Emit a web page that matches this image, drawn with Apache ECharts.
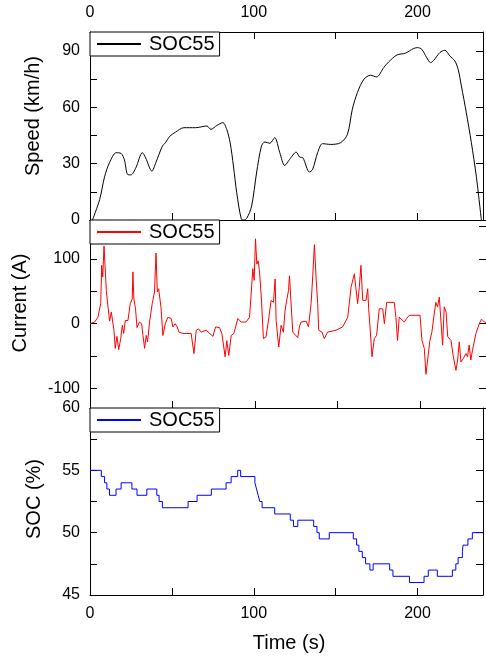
<!DOCTYPE html>
<html>
<head>
<meta charset="utf-8">
<script src="https://cdn.jsdelivr.net/npm/echarts@6/dist/echarts.min.js"></script>
<style>
  html, body { margin: 0; padding: 0; background: #fff; }
  #chart { width: 486px; height: 657px; }
</style>
</head>
<body>
<div id="chart"></div>
<script>
// legend text shared by all three panels
const legendLabel = 'SOC55';

// speed trace (s, km/h)
const speedTime = [1.5, 5.9, 8.9, 11.9, 16, 19, 21, 23, 25, 28, 32, 34, 37.8, 40.2, 44.2, 46, 48.8, 52.3, 57.3, 64.4,
  71.4, 73.8, 77.5, 81.1, 83.5, 85.6, 87.6, 89.6, 92.4, 94, 95.8, 98.7, 101.7, 104.7, 106.8, 109.8, 112.8, 115.9, 118.9,
  121.9, 125.9, 128, 130, 134, 136, 139, 142, 147, 153, 157.2, 160.2, 163.3, 167.3, 171.3, 175, 179.4, 182.4, 187.5,
  192.5, 197.6, 200, 202.6, 205.6, 208, 210, 213.7, 216.7, 219.7, 222.8, 224.8, 226.8, 229.8, 232.9, 235.9, 239];
const speedVals = [0, 10.9, 23, 30.5, 35.8, 35.4, 32, 24.2, 24, 27.8, 35.8, 33, 26, 30.5, 39.3, 41, 44.6, 46.8, 49.1, 49.1,
  50, 48.2, 50.3, 51.8, 48.2, 41, 28.7, 14.5, 0.5, 0, 1, 7.4, 25, 39.3, 41.5, 40.8, 43.8, 35.8, 29,
  32.2, 36.1, 33.5, 33.1, 25.5, 27, 35.8, 40.6, 40.2, 41.1, 45.5, 58.9, 67.8, 74.9, 77, 76.1, 81.1, 84.1, 87.8,
  88.7, 91.2, 91.7, 90.8, 86.4, 83.7, 85, 89.1, 90.3, 87.3, 84.6, 80.2, 71.3, 57.1, 41.1, 23.3, 0];

// current trace (s, A)
const currentTime = [0, 2.8, 4.8, 6.5, 7.1, 7.7, 8.5, 9.1, 9.9, 10.9, 11.9, 12.9, 13.9, 14.5, 15.3, 16.3, 17.4, 18.6,
  19.6, 20.4, 21.4, 23, 24.4, 25.6, 26, 26.6, 27.6, 28.5, 30, 31.3, 32.1, 33.1, 34.1, 34.9, 36.1, 37.7, 39.1, 40,
  40.8, 41.6, 43, 44.2, 45.6, 47.2, 49.2, 50.2, 51.6, 52.9, 53.9, 56.3, 61.3, 63, 64.4, 65.8, 67.4, 70.4, 74.5, 76.1,
  78.5, 79.9, 81.9, 82.9, 84.1, 85.6, 87.2, 89.6, 91.6, 94.6, 96.7, 98.7, 99.5, 100.3, 101.1, 101.9, 102.7, 103.9,
  105.1, 106.7, 108.3, 109.8, 111.2, 112.2, 112.8, 113.8, 114.4, 115.8, 117.2, 118.2, 119.2, 120.3, 120.9, 121.7,
  122.9, 125.9, 126.9, 127.9, 131, 132.4, 134, 135, 136, 137, 138, 138.6, 140.6, 142, 144, 149.1, 153.1, 156.2,
  158.2, 160.2, 161.2, 162.2, 163.2, 164.2, 165.3, 167.3, 168.3, 168.9, 169.7, 170.9, 172.3, 173.7, 175.3, 176.4,
  177.4, 178.4, 179.8, 184.4, 185.4, 186.4, 187.4, 188.5, 190.5, 191.9, 193.5, 200, 201.2, 202.6, 203.6, 204.6,
  206, 207.2, 208.6, 209.6, 210.6, 211.7, 212.7, 213.7, 214.7, 215.8, 216.8, 218.8, 220.2, 221.8, 222.8, 223.8,
  224.8, 226.2, 227.8, 228.8, 229.8, 230.8, 231.8, 233.9, 235.9, 237.3, 239, 240];
const currentVals = [0, 2.6, 10, 31, 90, 72, 120, 90, 51, 26, 4, 18, 18, -10, -38, -19.5, -40, -23,
  -2.5, -15, 5, 5, 31, 38, 80, 38, 23, -6, 2.6, 0, -18, -38, -18, -28, 2.6, 31, 49, 109,
  49, 54, 26, -18, 0, 10, 8, -5, 0, -5, -13, -15, -15, -46, -10, -8, -13, -10, -19.5, -5,
  -6, -15, -51, -26, -49, -18, -15, 8, 2.6, 2.6, 10, 85, 67, 131, 92, 97, 82, 38,
  -23, -20, 8, 36, 33, 69, 5, 2.6, -36, -2.5, -13, 20, 36, 51, 74, 38,
  -13, -21.5, -5, 2.6, 4, -5, 31, 74, 122, 72, 31, -10, -13, -23, -13, -10, -5, 10,
  56, 77, 77, 31, 56, 90, 36, 36, 54, 23, -5, -51, -23, -18, 23, 20,
  23, 0, 33, 33, 10, -26, 10, 10, 2.6, 8, 13, 13, -26, -38, -78, -77,
  -26, -13, 15, 33, 26, 41, 41, -33, 26, 18, -20, -26, -51, -72, -56, -28,
  -59, -54, -46, -51, -33, -56, -41, -15, 0, 7, 2.6, 1];

// SOC staircase (s, %): each level starts at the given time
const socTime = [0, 6.9, 8.9, 10.3, 11.9, 15.9, 19, 25.6, 28.7, 34.7, 40.8, 42.2, 44.2, 59.9, 65.4, 74.1, 83.1, 86.2,
  90.2, 92, 100.7, 101.7, 102.7, 103.7, 105.1, 112.8, 122.3, 124.3, 126.9, 136.6, 138.6, 140, 146.1, 160.8, 162.8,
  164.2, 166.3, 168.3, 170.9, 172.9, 183, 185, 195.1, 204, 206.6, 212.1, 221.3, 223.4, 224.8, 227.4, 227.8, 230.8,
  233.5, 240];
const socVals = [55, 54.5, 54, 53.5, 53, 53.5, 54, 53.5, 53, 53.5, 53, 52.5, 52, 52.5, 53, 53.5, 54, 54.5,
  55, 54.5, 54, 53.5, 53, 52.5, 52, 51.5, 51, 50.5, 51, 50.5, 50, 49.5, 50, 49.5, 49,
  48.5, 48, 47.5, 47, 47.5, 47, 46.5, 46, 46.5, 47, 46.5, 47, 47.5, 48, 48.5, 49, 49.5,
  50, 50];

const zip = (xs, ys) => xs.map((x, i) => [x, ys[i]]);

const FONT = 'Arial, "Liberation Sans", sans-serif';
const AXIS_COLOR = '#000';

const grids = [
  { left: 90, top: 32, width: 397, height: 188 },
  { left: 90, top: 220, width: 397, height: 188 },
  { left: 90, top: 408, width: 397, height: 187 }
];

function xAx(grid, position, opts) {
  return Object.assign({
    type: 'value',
    gridIndex: grid,
    position: position,
    min: 0,
    max: 240,
    interval: 50,
    axisLine: { show: true, onZero: false, lineStyle: { color: AXIS_COLOR, width: 1 } },
    axisTick: { show: true, inside: true, length: 7, lineStyle: { color: AXIS_COLOR } },
    axisLabel: {
      show: false, margin: 11, fontSize: 16, color: '#000', fontFamily: FONT,
      formatter: v => (v % 100 === 0 ? v : '')
    },
    splitLine: { show: false }
  }, opts || {});
}

function yAx(grid, position, range, labelStep, extra) {
  return Object.assign({
    type: 'value',
    gridIndex: grid,
    position: position,
    min: range[0],
    max: range[1],
    axisLine: { show: true, onZero: false, lineStyle: { color: AXIS_COLOR, width: 1 } },
    axisTick: { show: true, inside: true, length: 7, lineStyle: { color: AXIS_COLOR } },
    axisLabel: {
      show: position === 'left', margin: 10, fontSize: 16, color: '#000', fontFamily: FONT,
      formatter: v => (Math.abs(v % labelStep) < 1e-6 ? v : '')
    },
    splitLine: { show: false }
  }, extra || {});
}

function legendFor(grid, seriesName) {
  return {
    left: 90,
    top: grids[grid].top,
    orient: 'vertical',
    data: [seriesName],
    formatter: () => legendLabel,
    padding: [2, 5, 2, 6],
    itemWidth: 44,
    itemHeight: 14,
    itemStyle: { opacity: 0 },
    borderColor: '#000',
    borderWidth: 1,
    borderRadius: 0,
    backgroundColor: '#fff',
    selectedMode: false,
    textStyle: { fontSize: 20, lineHeight: 20, color: '#000', fontFamily: FONT, padding: [0, 0, 0, 3] }
  };
}

function yTitle(text, x, y) {
  return {
    type: 'text',
    x: x,
    y: y,
    rotation: Math.PI / 2,
    style: { text: text, fontSize: 20, fontFamily: FONT, fill: '#000', align: 'center', verticalAlign: 'middle' }
  };
}

const chart = echarts.init(document.getElementById('chart'), null, { renderer: 'canvas' });

chart.setOption({
  animation: false,
  backgroundColor: '#fff',
  grid: grids,
  xAxis: [
    xAx(0, 'top', { axisLabel: Object.assign({}, xAx(0, 'top').axisLabel, { show: true }) }),
    xAx(0, 'bottom'),
    xAx(1, 'top', { axisTick: { show: false } }),
    xAx(1, 'bottom'),
    xAx(2, 'top', { axisTick: { show: false } }),
    xAx(2, 'bottom', { axisLabel: Object.assign({}, xAx(2, 'bottom').axisLabel, { show: true }) })
  ],
  yAxis: [
    yAx(0, 'left', [0, 100], 30, { interval: 15 }),
    yAx(0, 'right', [0, 100], 30, { interval: 15 }),
    yAx(1, 'left', [-130, 160], 100, { splitNumber: 5 }),
    yAx(1, 'right', [-130, 160], 100, { splitNumber: 5 }),
    yAx(2, 'left', [45, 60], 5, { interval: 2.5 }),
    yAx(2, 'right', [45, 60], 5, { interval: 2.5 })
  ],
  legend: [
    legendFor(0, 'speed'),
    legendFor(1, 'current'),
    legendFor(2, 'soc')
  ],
  graphic: [
    yTitle('Speed (km/h)', 33, 116),
    yTitle('Current (A)', 20, 303),
    yTitle('SOC (%)', 34, 499),
    {
      type: 'text',
      x: 289,
      y: 643,
      style: { text: 'Time (s)', fontSize: 20, fontFamily: FONT, fill: '#000', align: 'center', verticalAlign: 'middle' }
    }
  ],
  series: [
    {
      name: 'speed',
      type: 'line',
      xAxisIndex: 0,
      yAxisIndex: 0,
      data: zip(speedTime, speedVals),
      smooth: 0.3,
      symbol: 'none',
      lineStyle: { color: '#000', width: 1 },
      itemStyle: { color: '#000' }
    },
    {
      name: 'current',
      type: 'line',
      xAxisIndex: 3,
      yAxisIndex: 2,
      data: zip(currentTime, currentVals),
      symbol: 'none',
      lineStyle: { color: '#ff0000', width: 1 },
      itemStyle: { color: '#ff0000' }
    },
    {
      name: 'soc',
      type: 'line',
      xAxisIndex: 5,
      yAxisIndex: 4,
      data: zip(socTime, socVals),
      step: 'end',
      symbol: 'none',
      lineStyle: { color: '#0000ff', width: 1 },
      itemStyle: { color: '#0000ff' }
    }
  ]
});
</script>
</body>
</html>
